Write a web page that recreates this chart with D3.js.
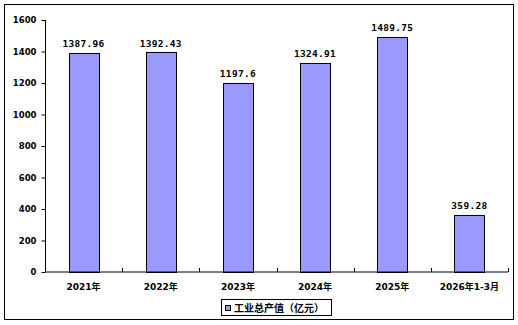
<!DOCTYPE html>
<html><head><meta charset="utf-8">
<script src="https://cdn.jsdelivr.net/npm/d3@7"></script>
<style>body{margin:0;background:#fff}svg{display:block}</style>
</head><body>
<script>
const categories = ["2021年","2022年","2023年","2024年","2025年","2026年1-3月"];
const values = [1387.96,1392.43,1197.6,1324.91,1489.75,359.28];
const valueLabels = ["1387.96","1392.43","1197.6","1324.91","1489.75","359.28"];
const yTicks = [0,200,400,600,800,1000,1200,1400,1600];
const seriesName = "工业总产值（亿元）";

const W=518,H=325;
const svg=d3.select("body").append("svg").attr("width",W).attr("height",H);
svg.append("rect").attr("x",4.5).attr("y",4.5).attr("width",509).attr("height",315)
  .attr("fill","#fff").attr("stroke","#000").attr("stroke-width",1);

const x0=45,x1=508,yTop=19.5,yBot=271.5;
const x=d3.scaleBand().domain(categories).range([x0,x1]).paddingInner(0.61).paddingOuter(0.305);
const y=d3.scaleLinear().domain([0,1600]).range([yBot,yTop]);

const fontLat="'DejaVu Sans','Noto Sans CJK SC',sans-serif";

// bars
svg.selectAll("rect.bar").data(values).enter().append("rect").attr("class","bar")
  .attr("x",(d,i)=>Math.round(x(categories[i]))+0.5)
  .attr("y",d=>Math.round(y(d))+0.5)
  .attr("width",Math.round(x.bandwidth()))
  .attr("height",d=>Math.round(yBot)-Math.round(y(d)))
  .attr("fill","#9999ff").attr("stroke","#000").attr("stroke-width",1);

// value labels
svg.selectAll("text.val").data(values).enter().append("text").attr("class","val")
  .attr("x",(d,i)=>x(categories[i])+x.bandwidth()/2)
  .attr("y",d=>y(d)-5.5)
  .attr("text-anchor","middle")
  .style("font-family","'DejaVu Sans Mono',monospace").style("font-weight","bold").style("font-size","9.5px")
  .style("letter-spacing","0.3px")
  .text((d,i)=>valueLabels[i]);

// y axis
const yAxis=d3.axisLeft(y).tickValues(yTicks).tickSize(4).tickPadding(5).tickFormat(d3.format("d"));
const gy=svg.append("g").attr("transform",`translate(${x0+0.5},0.5)`).call(yAxis);
gy.select(".domain").attr("d",`M0,${yTop}V${yBot}`).attr("stroke","#000");
gy.selectAll(".tick line").attr("stroke","#000");
gy.selectAll(".tick text").style("font-family",fontLat).style("font-weight","bold").style("font-size","8.5px").attr("fill","#000");

// x axis
const gx=svg.append("g").attr("transform",`translate(0,${yBot+0.5})`);
gx.append("line").attr("x1",x0).attr("x2",x1).attr("stroke","#000");
const step=x.step();
const bounds=d3.range(categories.length+1).map(i=>x0+i*step);
gx.selectAll("line.tk").data(bounds).enter().append("line").attr("class","tk")
  .attr("x1",d=>Math.round(d)+0.5).attr("x2",d=>Math.round(d)+0.5).attr("y1",0).attr("y2",-4).attr("stroke","#000");
gx.selectAll("text").data(categories).enter().append("text")
  .attr("x",d=>x(d)+x.bandwidth()/2).attr("y",18)
  .attr("text-anchor","middle")
  .style("font-family",fontLat).style("font-weight","bold").style("font-size","9px")
  .text(d=>d);

// legend
const lg=svg.append("g");
lg.append("rect").attr("x",221.5).attr("y",299.5).attr("width",110).attr("height",16).attr("fill","#fff").attr("stroke","#000");
lg.append("rect").attr("x",225.5).attr("y",305.5).attr("width",5).attr("height",5).attr("fill","#9999ff").attr("stroke","#000");
lg.append("text").attr("x",234).attr("y",311.5)
  .style("font-family","'Noto Sans CJK SC',sans-serif").style("font-weight","bold").style("font-size","10px")
  .text(seriesName);
</script>
</body></html>
